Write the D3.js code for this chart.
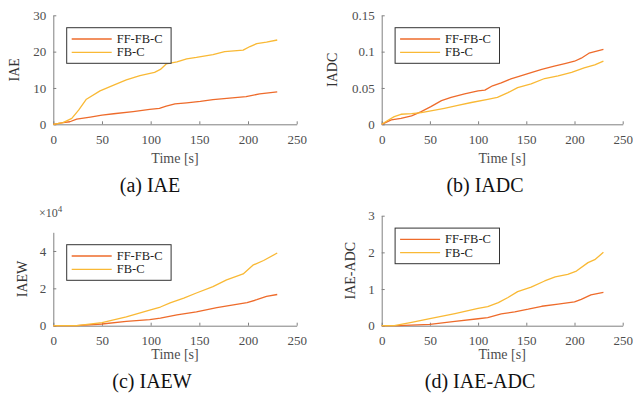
<!DOCTYPE html>
<html>
<head>
<meta charset="utf-8">
<script src="https://cdn.jsdelivr.net/npm/d3@7/dist/d3.min.js"></script>
<style>
  body { margin: 0; background: #fff; }
  svg { display: block; }
</style>
</head>
<body>
<svg width="633" height="406"></svg>
<script>
var FONT = "'Liberation Serif', 'Times New Roman', 'DejaVu Serif', serif";

// series names and colours
var seriesNames = ["FF-FB-C", "FB-C"];
var seriesColors = ["#ee6b2b", "#f9b935"];

// (a) IAE  -- [time s, value]
var iaeFF = [[0,0],[10,0.46],[17,0.7],[24,1.4],[38,2.0],[50,2.5],[62,2.9],[82,3.5],[99,4.1],[109,4.4],[116,5.0],[125,5.6],[137,5.9],[151,6.3],[164,6.8],[181,7.2],[198,7.6],[212,8.4],[230,8.9]];
var iaeFB = [[0,0],[10,0.46],[19,1.65],[26,3.9],[34,6.9],[48,9.2],[62,10.8],[75,12.2],[89,13.4],[104,14.3],[110,15.1],[116,16.6],[127,17.2],[137,18.0],[147,18.4],[164,19.2],[176,20.0],[195,20.4],[202,21.4],[209,22.2],[219,22.6],[230,23.2]];

// (b) IADC
var iadcFF = [[0,0],[10,0.006],[20,0.0083],[31,0.0115],[41,0.0174],[51,0.0243],[62,0.0326],[72,0.037],[86,0.0418],[100,0.046],[107,0.047],[115,0.053],[124,0.057],[134,0.0624],[145,0.067],[155,0.071],[166,0.0757],[179,0.080],[190,0.0835],[200,0.0868],[207,0.091],[215,0.0978],[230,0.103]];
var iadcFB = [[0,0],[7,0.006],[13,0.0106],[20,0.0138],[31,0.0147],[41,0.016],[51,0.0184],[65,0.022],[79,0.026],[93,0.030],[110,0.0344],[120,0.037],[131,0.0436],[141,0.0505],[155,0.0555],[169,0.063],[183,0.0666],[197,0.0716],[210,0.0776],[221,0.0817],[230,0.087]];

// (c) IAEW, in units of 1e4
var iaewFF = [[0,0],[24,0],[50,0.09],[75,0.23],[99,0.32],[110,0.40],[127,0.58],[147,0.74],[168,0.97],[185,1.12],[199,1.24],[209,1.39],[219,1.57],[230,1.67]];
var iaewFB = [[0,0],[24,0],[50,0.16],[75,0.47],[99,0.83],[110,1.0],[120,1.22],[134,1.48],[147,1.75],[164,2.09],[178,2.45],[195,2.77],[205,3.24],[216,3.49],[230,3.89]];

// (d) IAE-ADC
var iaeadcFF = [[0,0],[17,0],[50,0.036],[76,0.12],[100,0.19],[110,0.22],[124,0.32],[138,0.38],[152,0.45],[166,0.53],[183,0.59],[200,0.65],[207,0.72],[217,0.84],[230,0.91]];
var iaeadcFB = [[0,0],[13,0],[31,0.09],[50,0.19],[76,0.33],[100,0.47],[110,0.52],[121,0.63],[131,0.77],[141,0.93],[155,1.05],[169,1.22],[180,1.33],[193,1.40],[202,1.49],[214,1.72],[221,1.80],[230,2.0]];

var timeTicks = [0, 50, 100, 150, 200, 250];
var iaeTicks = [0, 10, 20, 30];
var iadcTicks = [0, 0.05, 0.1, 0.15];
var iaewTicks = [0, 2, 4];
var iaeadcTicks = [0, 1, 2, 3];

var svg = d3.select("svg").attr("font-family", FONT);
svg.append("rect").attr("width", 633).attr("height", 406).attr("fill", "#fff");

var panels = [
  { left: 53.3, right: 296.7, top: 15.3, bottom: 124.3, ymax: 30, yticks: iaeTicks,
    data: [iaeFF, iaeFB], ylabel: "IAE", ylabelX: 19, caption: "(a) IAE", capX: 150, timeY: 163, capY: 192 },
  { left: 381.7, right: 622.7, top: 15.3, bottom: 124.3, ymax: 0.15, yticks: iadcTicks,
    data: [iadcFF, iadcFB], ylabel: "IADC", ylabelX: 337, caption: "(b) IADC", capX: 485, timeY: 163, capY: 192 },
  { left: 53.3, right: 296.7, top: 232.3, bottom: 325.7, ymax: 5, yticks: iaewTicks,
    data: [iaewFF, iaewFB], ylabel: "IAEW", ylabelX: 27, caption: "(c) IAEW", capX: 152, timeY: 359, capY: 388, exp: true },
  { left: 381.7, right: 622.7, top: 215.7, bottom: 325.7, ymax: 3, yticks: iaeadcTicks,
    data: [iaeadcFF, iaeadcFB], ylabel: "IAE-ADC", ylabelX: 355, caption: "(d) IAE-ADC", capX: 480, timeY: 359, capY: 388 }
];

panels.forEach(function(p) {
  var x = d3.scaleLinear().domain([0, 250]).range([p.left, p.right]);
  var y = d3.scaleLinear().domain([0, p.ymax]).range([p.bottom, p.top]);
  var g = svg.append("g");

  var xAxis = g.append("g")
    .attr("transform", "translate(0," + p.bottom + ")")
    .call(d3.axisBottom(x).tickValues(timeTicks).tickSizeInner(-3).tickSizeOuter(0).tickPadding(10));
  var yAxis = g.append("g")
    .attr("transform", "translate(" + p.left + ",0)")
    .call(d3.axisLeft(y).tickValues(p.yticks).tickSizeInner(-3).tickSizeOuter(0).tickPadding(7)
      .tickFormat(function(d) { return d3.format("~g")(d); }));
  [xAxis, yAxis].forEach(function(a) {
    a.attr("font-family", FONT).attr("font-size", 13);
    a.select(".domain").attr("stroke", "#808080");
    a.selectAll(".tick line").attr("stroke", "#808080");
    a.selectAll(".tick text").attr("fill", "#4d4d4d");
  });

  var line = d3.line().x(function(d) { return x(d[0]); }).y(function(d) { return y(d[1]); });
  p.data.forEach(function(s, i) {
    g.append("path").datum(s).attr("d", line)
      .attr("fill", "none").attr("stroke", seriesColors[i]).attr("stroke-width", 1.3)
      .attr("stroke-linejoin", "round");
  });

  // legend
  var lx = p.left + 13.4, ly = p.top + 12.4;
  var lg = g.append("g").attr("transform", "translate(" + lx + "," + ly + ")");
  lg.append("rect").attr("width", 104.4).attr("height", 35.6)
    .attr("fill", "#fff").attr("stroke", "#333").attr("stroke-width", 1);
  seriesNames.forEach(function(n, i) {
    var yy = 11.3 + i * 13.3;
    lg.append("line").attr("x1", 5).attr("x2", 45).attr("y1", yy).attr("y2", yy)
      .attr("stroke", seriesColors[i]).attr("stroke-width", 1.3);
    lg.append("text").attr("x", 50).attr("y", yy + 4).attr("font-size", 12.5)
      .attr("fill", "#222").text(n);
  });

  // labels
  g.append("text").attr("x", (p.left + p.right) / 2).attr("y", p.timeY)
    .attr("text-anchor", "middle").attr("font-size", 14).attr("fill", "#4d4d4d").text("Time [s]");
  g.append("text").attr("transform", "translate(" + p.ylabelX + "," + ((p.top + p.bottom) / 2) + ") rotate(-90)")
    .attr("text-anchor", "middle").attr("font-size", 14).attr("fill", "#333").text(p.ylabel);
  g.append("text").attr("x", p.capX).attr("y", p.capY)
    .attr("text-anchor", "middle").attr("font-size", 20).attr("fill", "#111").text(p.caption);

  if (p.exp) {
    var t = g.append("text").attr("x", 39).attr("y", 217).attr("font-size", 12).attr("fill", "#4d4d4d");
    t.append("tspan").text("\u00d710");
    t.append("tspan").attr("dy", -5).attr("font-size", 9).text("4");
  }
});
</script>
</body>
</html>
